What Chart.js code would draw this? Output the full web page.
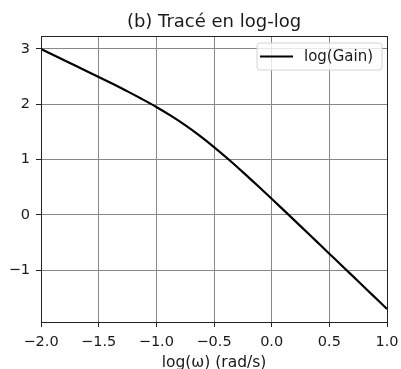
<!DOCTYPE html>
<html>
<head>
<meta charset="utf-8">
<script src="https://cdn.jsdelivr.net/npm/chart.js@4/dist/chart.umd.min.js"></script>
<style>
  html, body { margin: 0; padding: 0; background: #fff; }
  #wrap { width: 401px; height: 369px; }
</style>
</head>
<body>
<div id="wrap"><canvas id="gainChart" width="401" height="369"></canvas></div>
<script>
// log10(omega) samples and log10 of the gain magnitude
const logOmega = [-2.0, -1.875, -1.75, -1.625, -1.5, -1.375, -1.25, -1.125, -1.0,
                  -0.875, -0.75, -0.625, -0.5, -0.375, -0.25, -0.125, 0.0,
                  0.125, 0.25, 0.375, 0.5, 0.625, 0.75, 0.875, 1.0];
const logGain = [3.000, 2.874, 2.748, 2.622, 2.495, 2.366, 2.234, 2.096, 1.952,
                 1.795, 1.624, 1.434, 1.228, 1.007, 0.775, 0.536, 0.293,
                 0.046, -0.202, -0.451, -0.700, -0.949, -1.199, -1.449, -1.699];
const xTicks = [-2.0, -1.5, -1.0, -0.5, 0.0, 0.5, 1.0];
const yTicks = [-1, 0, 1, 2, 3];

const FONT = "'DejaVu Sans', sans-serif";

let points = [];
for (let i = 0; i < logOmega.length; i++) {
    points.push({ x: logOmega[i], y: logGain[i] });
}

function minus(s) {
    return s.replace('-', '\u2212');
}

// title, frame and boxed legend drawn in the plot corner
const decorations = {
    id: 'decorations',
    afterDraw(chart) {
        const ctx = chart.ctx;
        const a = chart.chartArea;
        ctx.save();

        ctx.strokeStyle = '#222';
        ctx.lineWidth = 1;
        ctx.strokeRect(Math.round(a.left) + 0.5, Math.round(a.top) + 0.5,
                       Math.round(a.right - a.left), Math.round(a.bottom - a.top));

        ctx.fillStyle = '#1a1a1a';
        ctx.font = "18px " + FONT;
        ctx.textAlign = 'center';
        ctx.textBaseline = 'alphabetic';
        ctx.fillText('(b) Tracé en log-log', (a.left + a.right) / 2, 27);

        // legend box
        const bx = 257, by = 43, bw = 125, bh = 27, r = 3;
        ctx.beginPath();
        ctx.moveTo(bx + r, by);
        ctx.arcTo(bx + bw, by, bx + bw, by + bh, r);
        ctx.arcTo(bx + bw, by + bh, bx, by + bh, r);
        ctx.arcTo(bx, by + bh, bx, by, r);
        ctx.arcTo(bx, by, bx + bw, by, r);
        ctx.closePath();
        ctx.fillStyle = 'rgba(255,255,255,0.8)';
        ctx.fill();
        ctx.strokeStyle = '#d4d4d4';
        ctx.lineWidth = 1;
        ctx.stroke();

        const ds = chart.data.datasets[0];
        ctx.strokeStyle = ds.borderColor;
        ctx.lineWidth = ds.borderWidth;
        ctx.beginPath();
        ctx.moveTo(260, 56.5);
        ctx.lineTo(293, 56.5);
        ctx.stroke();

        ctx.fillStyle = '#1a1a1a';
        ctx.font = "15px " + FONT;
        ctx.textAlign = 'left';
        ctx.textBaseline = 'middle';
        ctx.fillText(ds.label, 304, 57);

        ctx.restore();
    }
};

const ctx = document.getElementById('gainChart').getContext('2d');
const myChart = new Chart(ctx, {
    type: 'line',
    data: {
        datasets: [{
            label: 'log(Gain)',
            data: points,
            borderColor: '#000',
            borderWidth: 2.2,
            pointRadius: 0,
            cubicInterpolationMode: 'monotone',
            fill: false
        }]
    },
    options: {
        responsive: false,
        animation: false,
        events: [],
        layout: { padding: { left: 0, right: 14, top: 36, bottom: 0 } },
        plugins: {
            legend: { display: false },
            title: { display: false },
            tooltip: { enabled: false }
        },
        scales: {
            x: {
                type: 'linear',
                min: -2,
                max: 1,
                afterFit(scale) {
                    scale.height = 47;
                    scale.paddingLeft = 0;
                    scale.paddingRight = 0;
                },
                afterBuildTicks(scale) { scale.ticks = xTicks.map(v => ({ value: v })); },
                ticks: {
                    color: '#1a1a1a',
                    font: { family: FONT, size: 14.5 },
                    padding: 7,
                    maxRotation: 0,
                    callback: v => minus(Number(v).toFixed(1))
                },
                grid: { color: '#888', lineWidth: 1, tickColor: '#222', tickLength: 5 },
                border: { display: false },
                title: {
                    display: true,
                    text: 'log(ω) (rad/s)',
                    color: '#1a1a1a',
                    font: { family: FONT, size: 15.5, lineHeight: 1 },
                    padding: { top: 0, bottom: -2 }
                }
            },
            y: {
                type: 'linear',
                min: -1.935,
                max: 3.235,
                afterFit(scale) {
                    scale.width = 41;
                    scale.paddingTop = 0;
                    scale.paddingBottom = 0;
                },
                afterBuildTicks(scale) { scale.ticks = yTicks.map(v => ({ value: v })); },
                ticks: {
                    color: '#1a1a1a',
                    font: { family: FONT, size: 14.5 },
                    padding: 6,
                    callback: v => minus(String(v))
                },
                grid: { color: '#888', lineWidth: 1, tickColor: '#222', tickLength: 5 },
                border: { display: false }
            }
        }
    },
    plugins: [decorations]
});
</script>
</body>
</html>
